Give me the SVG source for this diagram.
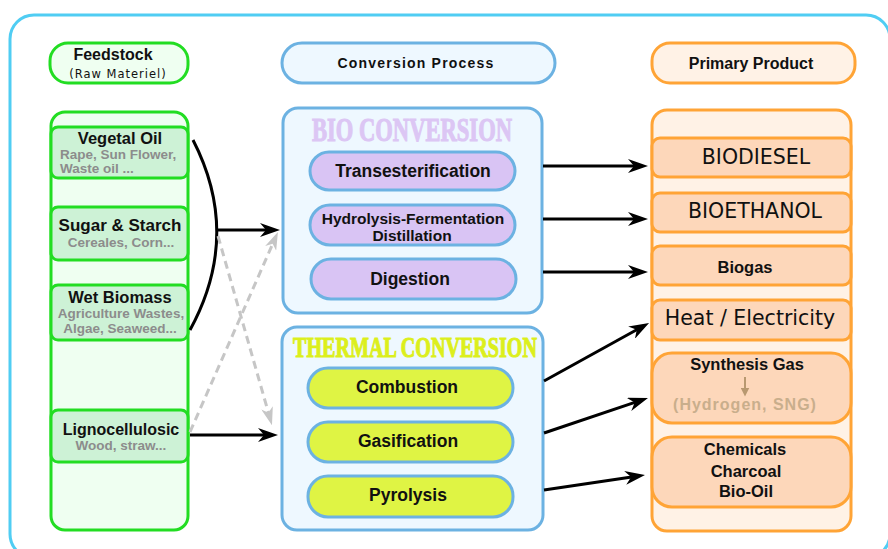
<svg xmlns="http://www.w3.org/2000/svg" width="888" height="549" viewBox="0 0 888 549">
<style>
.frame{fill:#ffffff;stroke:#50cdf3;stroke-width:3}
.gcol{fill:#effff1;stroke:#22dd22;stroke-width:3}
.gitem{fill:#cdf2d6;stroke:#22dd22;stroke-width:3}
.bcol{fill:#eef8ff;stroke:#6cb2e2;stroke-width:3}
.purple{fill:#d9c4f4;stroke:#6cb2e2;stroke-width:3}
.yellow{fill:#dff444;stroke:#6cb2e2;stroke-width:3}
.ocol{fill:#fff2e6;stroke:#ffa436;stroke-width:3}
.oitem{fill:#fdd7ba;stroke:#ffa436;stroke-width:3}
.b{font-family:"Liberation Sans",Arial,sans-serif;font-weight:bold;fill:#111;text-anchor:middle}
.r{font-family:"DejaVu Sans",Verdana,sans-serif;fill:#111;text-anchor:middle}
.sub{font-family:"Liberation Sans",Arial,sans-serif;font-weight:bold;fill:#8c8c8c;font-size:13.5px}
.title{font-family:"Liberation Serif","Times New Roman",serif;font-weight:bold;text-anchor:middle;stroke-width:1.1}
.arr{fill:none;stroke:#000;stroke-width:3}
.darr{fill:none;stroke:#c6c6c6;stroke-width:3;stroke-dasharray:8 5}
</style>
<defs>
<marker id="ah" viewBox="0 0 20 14" refX="10" refY="7" markerWidth="20" markerHeight="14" markerUnits="userSpaceOnUse" orient="auto">
<path d="M0,0 L20,7 L0,14 L6,7 z" fill="#000"/>
</marker>
<marker id="gah" viewBox="0 0 18 12" refX="9" refY="6" markerWidth="18" markerHeight="12" markerUnits="userSpaceOnUse" orient="auto">
<path d="M0,0 L18,6 L0,12 L5,6 z" fill="#c6c6c6"/>
</marker>
<marker id="tah" viewBox="0 0 10 10" refX="5" refY="5" markerWidth="9" markerHeight="9" markerUnits="userSpaceOnUse" orient="auto">
<path d="M0,0 L10,5 L0,10 z" fill="#b89870"/>
</marker>
</defs>

<rect class="frame" x="10" y="15" width="880" height="543" rx="24"/>

<g id="feedstock-header">
<rect class="gcol" x="50" y="43" width="138" height="40" rx="18"/>
<text class="b" x="113" y="60" font-size="16">Feedstock</text>
<text class="r" x="118" y="78" font-size="11.5" letter-spacing="1">(Raw Materiel)</text>
</g>

<g id="feedstock-column">
<rect class="gcol" x="51" y="112" width="137" height="418" rx="14"/>
</g>
<g id="vegetal-oil">
<rect class="gitem" x="51" y="127" width="137" height="51" rx="7"/>
<text class="b" x="120" y="144" font-size="16.5">Vegetal Oil</text>
<text class="sub" x="60" y="159">Rape, Sun Flower,</text>
<text class="sub" x="60" y="173">Waste oil ...</text>
</g>
<g id="sugar-starch">
<rect class="gitem" x="51" y="207" width="137" height="53" rx="7"/>
<text class="b" x="120" y="231" font-size="17">Sugar &amp; Starch</text>
<text class="sub" x="121" y="247" text-anchor="middle">Cereales, Corn...</text>
</g>
<g id="wet-biomass">
<rect class="gitem" x="51" y="285" width="137" height="55" rx="7"/>
<text class="b" x="120" y="303" font-size="16.5">Wet Biomass</text>
<text class="sub" x="121" y="318" text-anchor="middle">Agriculture Wastes,</text>
<text class="sub" x="120" y="333" text-anchor="middle">Algae, Seaweed...</text>
</g>
<g id="lignocellulosic">
<rect class="gitem" x="51" y="410" width="137" height="52" rx="7"/>
<text class="b" x="121" y="435" font-size="16">Lignocellulosic</text>
<text class="sub" x="121" y="450" text-anchor="middle">Wood, straw...</text>
</g>

<g id="conversion-header">
<rect class="bcol" x="282" y="43" width="273" height="40" rx="20"/>
<text class="b" x="416" y="68" font-size="14" letter-spacing="1.2">Conversion Process</text>
</g>

<g id="bio-conversion">
<rect class="bcol" x="283" y="108" width="259" height="205" rx="15"/>
<text class="title" x="412" y="141" font-size="33" fill="#dcc6f4" stroke="#dcc6f4" textLength="200" lengthAdjust="spacingAndGlyphs">BIO CONVERSION</text>
</g>
<g id="transesterification">
<rect class="purple" x="310" y="152" width="205" height="38" rx="19"/>
<text class="b" x="413" y="177" font-size="17.5">Transesterification</text>
</g>
<g id="hydrolysis">
<rect class="purple" x="310" y="205" width="205" height="40" rx="20"/>
<text class="b" x="413" y="224" font-size="15.5">Hydrolysis-Fermentation</text>
<text class="b" x="412" y="241" font-size="15.5">Distillation</text>
</g>
<g id="digestion">
<rect class="purple" x="311" y="259" width="205" height="40" rx="20"/>
<text class="b" x="410" y="285" font-size="17.5">Digestion</text>
</g>

<g id="thermal-conversion">
<rect class="bcol" x="282" y="327" width="261" height="203" rx="15"/>
<text class="title" x="415" y="357" font-size="28.5" fill="#dcef1c" stroke="#dcef1c" textLength="244" lengthAdjust="spacingAndGlyphs">THERMAL CONVERSION</text>
</g>
<g id="combustion">
<rect class="yellow" x="308" y="368" width="205" height="40" rx="20"/>
<text class="b" x="407" y="393" font-size="17.5">Combustion</text>
</g>
<g id="gasification">
<rect class="yellow" x="308" y="422" width="205" height="40" rx="20"/>
<text class="b" x="408" y="447" font-size="17.5">Gasification</text>
</g>
<g id="pyrolysis">
<rect class="yellow" x="308" y="476" width="205" height="41" rx="20"/>
<text class="b" x="408" y="501" font-size="17.5">Pyrolysis</text>
</g>

<g id="product-header">
<rect class="ocol" x="652" y="43" width="203" height="40" rx="18"/>
<text class="b" x="751" y="69" font-size="16">Primary Product</text>
</g>
<g id="product-column">
<rect class="ocol" x="652" y="110" width="199" height="421" rx="15"/>
</g>
<g id="biodiesel">
<rect class="oitem" x="652" y="138" width="199" height="39" rx="8"/>
<text class="r" x="756" y="164" font-size="20.5">BIODIESEL</text>
</g>
<g id="bioethanol">
<rect class="oitem" x="652" y="193" width="199" height="39" rx="8"/>
<text class="r" x="755" y="218" font-size="20.5">BIOETHANOL</text>
</g>
<g id="biogas">
<rect class="oitem" x="652" y="246" width="199" height="39" rx="8"/>
<text class="b" x="745" y="273" font-size="16.5">Biogas</text>
</g>
<g id="heat-electricity">
<rect class="oitem" x="652" y="300" width="199" height="40" rx="8"/>
<text class="r" x="750" y="325" font-size="20.5">Heat / Electricity</text>
</g>
<g id="synthesis-gas">
<rect class="oitem" x="652" y="353" width="199" height="70" rx="20"/>
<text class="b" x="747" y="370" font-size="16.5">Synthesis Gas</text>
<line x1="745" y1="377" x2="745" y2="392" stroke="#b89870" stroke-width="2" marker-end="url(#tah)"/>
<text class="b" x="745" y="410" font-size="16" letter-spacing="1" style="fill:#c9ae8c">(Hydrogen, SNG)</text>
</g>
<g id="chemicals">
<rect class="oitem" x="652" y="437" width="199" height="70" rx="20"/>
<text class="b" x="745" y="455" font-size="16.5">Chemicals</text>
<text class="b" x="746" y="477" font-size="16.5">Charcoal</text>
<text class="b" x="746" y="497" font-size="16.5">Bio-Oil</text>
</g>

<g id="connectors">
<path class="arr" d="M193,140 Q242,235 190,330"/>
<line class="arr" x1="217" y1="230" x2="270" y2="230" marker-end="url(#ah)"/>
<line class="arr" x1="190" y1="435" x2="268" y2="435" marker-end="url(#ah)"/>
<line class="darr" x1="218" y1="236" x2="269.5" y2="416.5" marker-end="url(#gah)"/>
<line class="darr" x1="190" y1="432" x2="274.3" y2="240.2" marker-end="url(#gah)"/>
<line class="arr" x1="543" y1="166" x2="638" y2="166" marker-end="url(#ah)"/>
<line class="arr" x1="543" y1="219" x2="638" y2="219" marker-end="url(#ah)"/>
<line class="arr" x1="543" y1="272" x2="638" y2="272" marker-end="url(#ah)"/>
<line class="arr" x1="544" y1="381" x2="640.3" y2="327.8" marker-end="url(#ah)"/>
<line class="arr" x1="544" y1="433" x2="638.5" y2="401.2" marker-end="url(#ah)"/>
<line class="arr" x1="544" y1="490" x2="635.1" y2="476.4" marker-end="url(#ah)"/>
</g>
</svg>
